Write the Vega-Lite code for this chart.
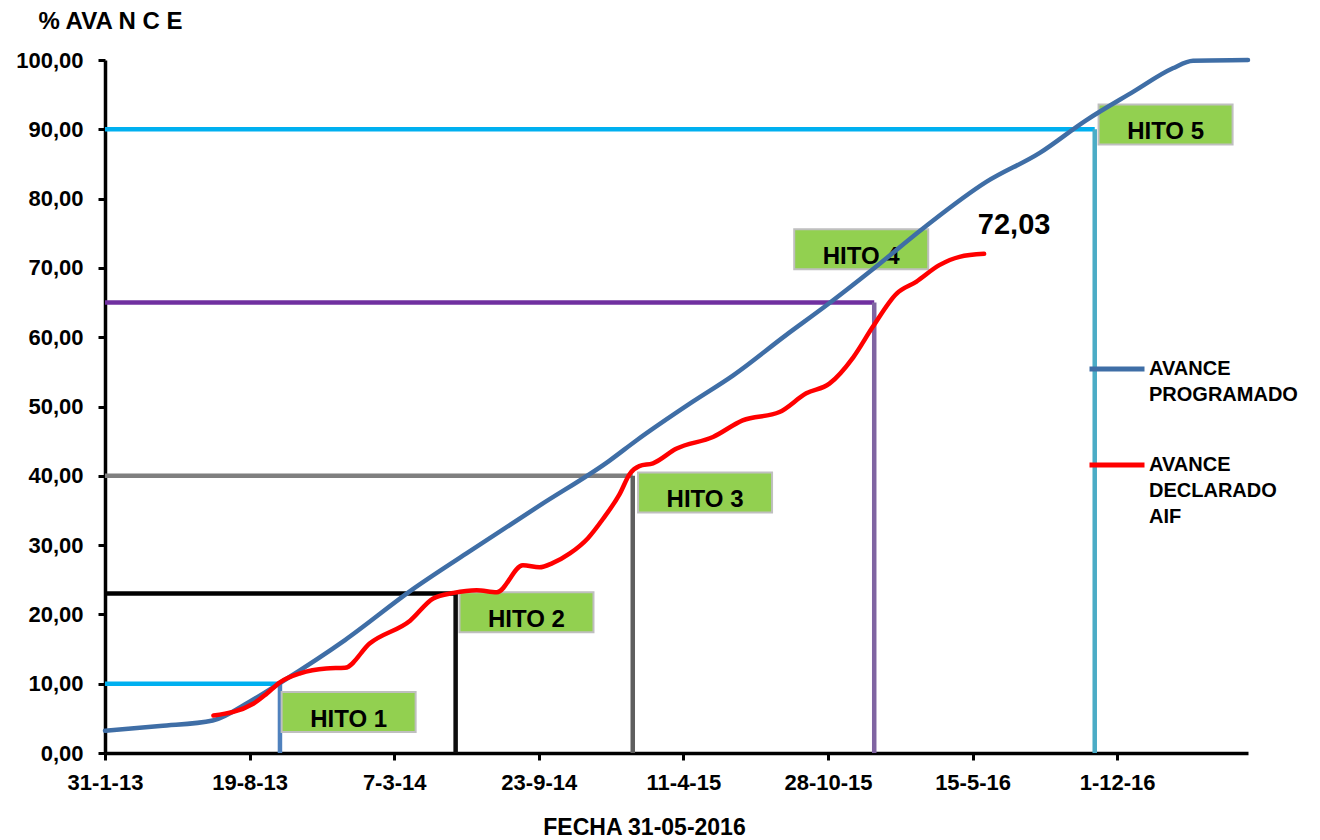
{
  "$schema": "https://vega.github.io/schema/vega-lite/v6.json",
  "width": 1143,
  "height": 693,
  "autosize": {"type": "none"},
  "padding": {"left": 105, "top": 60, "right": 72, "bottom": 87},
  "background": "white",
  "config": {
    "view": {"stroke": null},
    "locale": {"number": {"decimal": ",", "thousands": ".", "grouping": [3], "currency": ["", " €"]}},
    "axis": {"grid": false, "domainColor": "black", "tickColor": "black", "labelColor": "black", "titleColor": "black", "labelFont": "Liberation Sans", "titleFont": "Liberation Sans", "labelFontWeight": "bold", "titleFontWeight": "bold"}
  },
  "datasets": {
    "series": [
      {"serie": "AVANCE PROGRAMADO", "fecha": "2013-01-31", "avance": 3.2},
      {"serie": "AVANCE PROGRAMADO", "fecha": "2013-04-17", "avance": 3.9},
      {"serie": "AVANCE PROGRAMADO", "fecha": "2013-06-29", "avance": 4.7},
      {"serie": "AVANCE PROGRAMADO", "fecha": "2013-08-19", "avance": 7.4},
      {"serie": "AVANCE PROGRAMADO", "fecha": "2013-09-30", "avance": 10.1},
      {"serie": "AVANCE PROGRAMADO", "fecha": "2013-12-29", "avance": 16.3},
      {"serie": "AVANCE PROGRAMADO", "fecha": "2014-03-31", "avance": 23.5},
      {"serie": "AVANCE PROGRAMADO", "fecha": "2014-06-15", "avance": 28.8},
      {"serie": "AVANCE PROGRAMADO", "fecha": "2014-09-24", "avance": 35.7},
      {"serie": "AVANCE PROGRAMADO", "fecha": "2014-12-30", "avance": 42.2},
      {"serie": "AVANCE PROGRAMADO", "fecha": "2015-02-05", "avance": 45.1},
      {"serie": "AVANCE PROGRAMADO", "fecha": "2015-04-24", "avance": 50.7},
      {"serie": "AVANCE PROGRAMADO", "fecha": "2015-06-19", "avance": 54.5},
      {"serie": "AVANCE PROGRAMADO", "fecha": "2015-08-31", "avance": 60.3},
      {"serie": "AVANCE PROGRAMADO", "fecha": "2015-10-26", "avance": 64.6},
      {"serie": "AVANCE PROGRAMADO", "fecha": "2015-12-29", "avance": 69.8},
      {"serie": "AVANCE PROGRAMADO", "fecha": "2016-03-10", "avance": 75.9},
      {"serie": "AVANCE PROGRAMADO", "fecha": "2016-06-03", "avance": 82.4},
      {"serie": "AVANCE PROGRAMADO", "fecha": "2016-08-16", "avance": 86.6},
      {"serie": "AVANCE PROGRAMADO", "fecha": "2016-10-19", "avance": 91.3},
      {"serie": "AVANCE PROGRAMADO", "fecha": "2016-12-23", "avance": 95.4},
      {"serie": "AVANCE PROGRAMADO", "fecha": "2017-02-16", "avance": 98.8},
      {"serie": "AVANCE PROGRAMADO", "fecha": "2017-03-16", "avance": 99.9},
      {"serie": "AVANCE PROGRAMADO", "fecha": "2017-05-31", "avance": 100},
      {"serie": "AVANCE DECLARADO AIF", "fecha": "2013-06-30", "avance": 5.4},
      {"serie": "AVANCE DECLARADO AIF", "fecha": "2013-08-24", "avance": 7.1},
      {"serie": "AVANCE DECLARADO AIF", "fecha": "2013-09-12", "avance": 8.6},
      {"serie": "AVANCE DECLARADO AIF", "fecha": "2013-09-30", "avance": 10.2},
      {"serie": "AVANCE DECLARADO AIF", "fecha": "2013-10-28", "avance": 11.5},
      {"serie": "AVANCE DECLARADO AIF", "fecha": "2013-12-03", "avance": 12.2},
      {"serie": "AVANCE DECLARADO AIF", "fecha": "2013-12-29", "avance": 12.3},
      {"serie": "AVANCE DECLARADO AIF", "fecha": "2014-02-01", "avance": 15.8},
      {"serie": "AVANCE DECLARADO AIF", "fecha": "2014-03-29", "avance": 19.1},
      {"serie": "AVANCE DECLARADO AIF", "fecha": "2014-04-30", "avance": 22.3},
      {"serie": "AVANCE DECLARADO AIF", "fecha": "2014-05-28", "avance": 23.1},
      {"serie": "AVANCE DECLARADO AIF", "fecha": "2014-06-29", "avance": 23.5},
      {"serie": "AVANCE DECLARADO AIF", "fecha": "2014-07-27", "avance": 23.2},
      {"serie": "AVANCE DECLARADO AIF", "fecha": "2014-09-01", "avance": 27.1},
      {"serie": "AVANCE DECLARADO AIF", "fecha": "2014-09-24", "avance": 26.8},
      {"serie": "AVANCE DECLARADO AIF", "fecha": "2014-10-12", "avance": 27.4},
      {"serie": "AVANCE DECLARADO AIF", "fecha": "2014-11-05", "avance": 28.8},
      {"serie": "AVANCE DECLARADO AIF", "fecha": "2014-11-30", "avance": 31.0},
      {"serie": "AVANCE DECLARADO AIF", "fecha": "2014-12-21", "avance": 33.8},
      {"serie": "AVANCE DECLARADO AIF", "fecha": "2015-01-13", "avance": 37.4},
      {"serie": "AVANCE DECLARADO AIF", "fecha": "2015-01-27", "avance": 40.3},
      {"serie": "AVANCE DECLARADO AIF", "fecha": "2015-02-09", "avance": 41.4},
      {"serie": "AVANCE DECLARADO AIF", "fecha": "2015-02-28", "avance": 41.8},
      {"serie": "AVANCE DECLARADO AIF", "fecha": "2015-04-01", "avance": 43.9},
      {"serie": "AVANCE DECLARADO AIF", "fecha": "2015-05-22", "avance": 45.6},
      {"serie": "AVANCE DECLARADO AIF", "fecha": "2015-07-02", "avance": 48.0},
      {"serie": "AVANCE DECLARADO AIF", "fecha": "2015-08-22", "avance": 49.2},
      {"serie": "AVANCE DECLARADO AIF", "fecha": "2015-09-28", "avance": 51.9},
      {"serie": "AVANCE DECLARADO AIF", "fecha": "2015-10-30", "avance": 53.3},
      {"serie": "AVANCE DECLARADO AIF", "fecha": "2015-12-02", "avance": 57.1},
      {"serie": "AVANCE DECLARADO AIF", "fecha": "2015-12-29", "avance": 61.5},
      {"serie": "AVANCE DECLARADO AIF", "fecha": "2016-01-31", "avance": 66.3},
      {"serie": "AVANCE DECLARADO AIF", "fecha": "2016-02-27", "avance": 68.0},
      {"serie": "AVANCE DECLARADO AIF", "fecha": "2016-03-30", "avance": 70.4},
      {"serie": "AVANCE DECLARADO AIF", "fecha": "2016-04-27", "avance": 71.6},
      {"serie": "AVANCE DECLARADO AIF", "fecha": "2016-05-31", "avance": 72.03}
    ],
    "hitos": [
      {"hito": "HITO 1", "fecha": "2013-09-30", "avance": 10},
      {"hito": "HITO 2", "fecha": "2014-05-31", "avance": 23},
      {"hito": "HITO 3", "fecha": "2015-01-31", "avance": 40},
      {"hito": "HITO 4", "fecha": "2015-12-31", "avance": 65},
      {"hito": "HITO 5", "fecha": "2016-10-31", "avance": 90}
    ],
    "etiquetas": [
      {"hito": "HITO 1", "fecha": "2014-01-03", "avance": 5.9},
      {"hito": "HITO 2", "fecha": "2014-09-06", "avance": 20.3},
      {"hito": "HITO 3", "fecha": "2015-05-11", "avance": 37.6},
      {"hito": "HITO 4", "fecha": "2015-12-13", "avance": 72.7},
      {"hito": "HITO 5", "fecha": "2017-02-06", "avance": 90.7}
    ]
  },
  "encoding": {
    "x": {
      "field": "fecha", "type": "temporal",
      "scale": {"type": "utc", "nice": false, "domain": [{"year": 2013, "month": 1, "date": 31, "utc": true}, {"year": 2017, "month": 5, "date": 31, "utc": true}]},
      "axis": {
        "title": "FECHA 31-05-2016",
        "format": "%-d-%-m-%y",
        "values": [
          {"year": 2013, "month": 1, "date": 31, "utc": true},
          {"year": 2013, "month": 8, "date": 19, "utc": true},
          {"year": 2014, "month": 3, "date": 7, "utc": true},
          {"year": 2014, "month": 9, "date": 23, "utc": true},
          {"year": 2015, "month": 4, "date": 11, "utc": true},
          {"year": 2015, "month": 10, "date": 28, "utc": true},
          {"year": 2016, "month": 5, "date": 15, "utc": true},
          {"year": 2016, "month": 12, "date": 1, "utc": true}
        ],
        "domainWidth": 3.5, "tickWidth": 3, "tickSize": 7,
        "labelFontSize": 22, "labelPadding": 12, "labelFlush": false, "labelOverlap": false,
        "titleFontSize": 23, "titleX": 539, "titleY": 74, "titleAnchor": null, "titleAlign": "center", "titleBaseline": "middle"
      }
    },
    "y": {
      "field": "avance", "type": "quantitative",
      "scale": {"domain": [0, 100], "nice": false},
      "axis": {
        "title": "% AVA N C E",
        "values": [0, 10, 20, 30, 40, 50, 60, 70, 80, 90, 100],
        "format": ".2f",
        "domainWidth": 3.5, "tickWidth": 3, "tickSize": 7,
        "labelFontSize": 22, "labelPadding": 15, "labelFlush": false, "labelOverlap": false,
        "titleFontSize": 24, "titleAngle": 0, "titleAlign": "left", "titleBaseline": "middle", "titleX": -67, "titleY": -39, "titleAnchor": null
      }
    }
  },
  "layer": [
    {
      "data": {"name": "hitos"},
      "mark": {"type": "rule", "strokeWidth": 4.5, "strokeCap": "butt"},
      "encoding": {
        "x": {"datum": {"year": 2013, "month": 1, "date": 31, "utc": true}, "type": "temporal"},
        "x2": {"field": "fecha"},
        "y": {"field": "avance", "type": "quantitative"},
        "color": {"field": "hito", "type": "nominal", "legend": null,
          "scale": {"domain": ["HITO 1", "HITO 2", "HITO 3", "HITO 4", "HITO 5"], "range": ["#00B0F0", "#000000", "#7F7F7F", "#7030A0", "#00B0F0"]}}
      }
    },
    {
      "data": {"name": "hitos"},
      "mark": {"type": "rule", "strokeWidth": 4.5, "strokeCap": "butt"},
      "encoding": {
        "x": {"field": "fecha", "type": "temporal"},
        "y": {"datum": 0, "type": "quantitative"},
        "y2": {"field": "avance"},
        "color": {"field": "hito", "type": "nominal", "legend": null,
          "scale": {"domain": ["HITO 1", "HITO 2", "HITO 3", "HITO 4", "HITO 5"], "range": ["#4F81BD", "#0D0D0D", "#5F5F5F", "#8064A2", "#4BACC6"]}}
      }
    },
    {
      "data": {"name": "etiquetas"},
      "mark": {"type": "rect", "width": 134, "height": 40, "fill": "#92D050", "stroke": "#BFBFBF", "strokeWidth": 2}
    },
    {
      "data": {"name": "etiquetas"},
      "mark": {"type": "text", "font": "Liberation Sans", "fontWeight": "bold", "fontSize": 24, "color": "black", "align": "center", "baseline": "middle", "dy": 8},
      "encoding": {"text": {"field": "hito"}}
    },
    {
      "data": {"name": "series"},
      "mark": {"type": "line", "strokeWidth": 4.5, "interpolate": "monotone", "strokeCap": "round"},
      "encoding": {
        "color": {
          "field": "serie", "type": "nominal",
          "scale": {"domain": ["AVANCE PROGRAMADO", "AVANCE DECLARADO AIF"], "range": ["#3F6EA6", "#FF0000"]},
          "legend": {
            "orient": "none", "legendX": 982, "legendY": 279, "title": null, "padding": 0,
            "symbolType": "stroke", "symbolSize": 3025, "symbolStrokeWidth": 5,
            "labelFont": "Liberation Sans", "labelFontWeight": "bold", "labelFontSize": 20, "labelColor": "black",
            "labelOffset": 2, "labelLimit": 400, "rowPadding": 30,
            "labelExpr": "datum.label == 'AVANCE PROGRAMADO' ? ['AVANCE', 'PROGRAMADO'] : ['AVANCE', 'DECLARADO', 'AIF']",
            "encode": {"labels": {"update": {"lineHeight": {"value": 26}}}}
          }
        }
      }
    },
    {
      "data": {"name": "series"},
      "transform": [{"filter": "datum.avance === 72.03"}],
      "mark": {"type": "text", "font": "Liberation Sans", "fontWeight": "bold", "fontSize": 29, "color": "black", "align": "center", "baseline": "middle", "dx": 30, "dy": -29},
      "encoding": {"text": {"field": "avance", "type": "quantitative", "format": ".2f"}}
    }
  ],
  "resolve": {"scale": {"color": "independent"}}
}
